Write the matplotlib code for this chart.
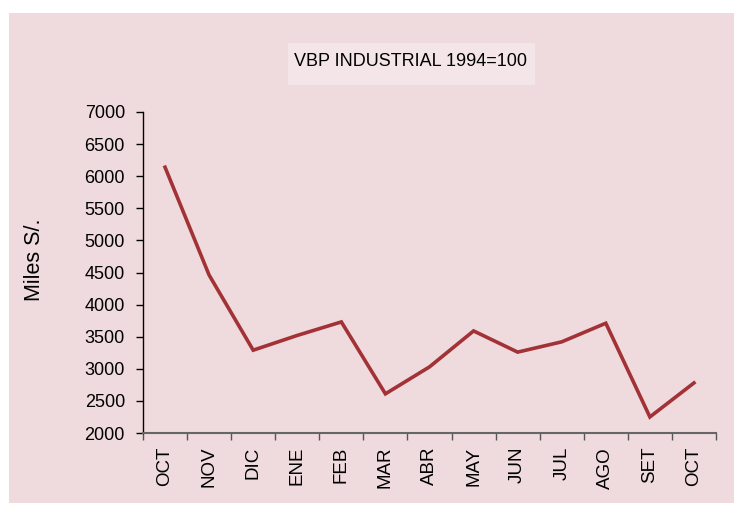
import matplotlib
matplotlib.use("Agg")
import matplotlib.pyplot as plt
from matplotlib.patches import Rectangle

months = ["OCT", "NOV", "DIC", "ENE", "FEB", "MAR", "ABR", "MAY", "JUN", "JUL", "AGO", "SET", "OCT"]
values = [6140, 4460, 3290, 3520, 3730, 2610, 3030, 3590, 3260, 3420, 3710, 2250, 2780]
yticks = [2000, 2500, 3000, 3500, 4000, 4500, 5000, 5500, 6000, 6500, 7000]

plt.rcParams['font.family'] = ['Liberation Sans', 'DejaVu Sans']

W, H = 734, 516
fig = plt.figure(figsize=(W / 100, H / 100), dpi=100)
fig.patch.set_facecolor('white')

bg = '#efdbdd'
fig.patches.append(Rectangle((9 / W, (H - 503) / H), (W - 9) / W, (503 - 13) / H,
                             transform=fig.transFigure, facecolor=bg, edgecolor='none', zorder=-2))
fig.patches.append(Rectangle((288 / W, (H - 85) / H), (535 - 288) / W, (85 - 43) / H,
                             transform=fig.transFigure, facecolor='#f4e6e8', edgecolor='none', zorder=-1))

ax = fig.add_axes([143 / W, (H - 433) / H, (716 - 143) / W, (433 - 112) / H])
ax.set_facecolor('none')
ax.set_zorder(1)

x = list(range(len(months)))
ax.plot(x, values, color='#a23236', linewidth=2.6, solid_joinstyle='miter')

ax.set_xlim(-0.5, len(months) - 0.5)
ax.set_ylim(2000, 7000)
ax.set_yticks(yticks)
ax.set_yticklabels([str(v) for v in yticks], fontsize=13)
ax.set_xticks(x)
ax.set_xticklabels(months, rotation=90, fontsize=13.5)
ax.set_xticks([i - 0.5 for i in range(len(months) + 1)], minor=True)
ax.tick_params(axis='x', which='major', length=0, pad=10)
ax.tick_params(axis='x', which='minor', length=5, width=1, color='#555555', direction='out')
ax.tick_params(axis='y', length=5, width=1, color='black', direction='out', pad=8)

for s in ['top', 'right']:
    ax.spines[s].set_visible(False)
ax.spines['left'].set_color('black')
ax.spines['left'].set_linewidth(1)
ax.spines['bottom'].set_color('#666666')
ax.spines['bottom'].set_linewidth(1.5)

ax.set_ylabel("Miles S/.", fontsize=15.5)
ax.yaxis.label.set_va('center')
ax.yaxis.set_label_coords((35 - 143) / 573, (433 - 260) / 321)

fig.text(411 / W, (H - 62) / H, "VBP INDUSTRIAL 1994=100", ha='center', va='center',
         fontsize=13, zorder=3)

fig.savefig("out.png", dpi=100)
